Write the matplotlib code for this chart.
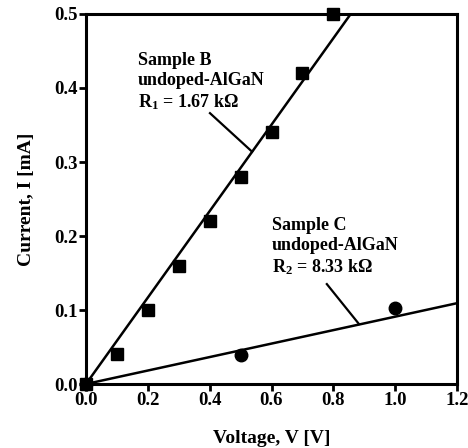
import matplotlib
matplotlib.use("Agg")
import matplotlib.pyplot as plt

plt.rcParams['font.family'] = ['Liberation Serif', 'DejaVu Serif']
plt.rcParams['font.weight'] = 'bold'
plt.rcParams['mathtext.fontset'] = 'custom'
plt.rcParams['mathtext.rm'] = 'Liberation Serif:bold'
plt.rcParams['mathtext.default'] = 'rm'

# data
v_b = [0.0, 0.1, 0.2, 0.3, 0.4, 0.5, 0.6, 0.7, 0.8]
i_b = [0.0, 0.04, 0.10, 0.16, 0.22, 0.28, 0.34, 0.42, 0.50]
v_c = [0.0, 0.5, 1.0]
i_c = [0.0, 0.039, 0.103]

# fitted lines (slopes in mA/V)
slope_b = 0.584
slope_c = 0.091
fit_v = [0.0, 1.2]

xticks = [0.0, 0.2, 0.4, 0.6, 0.8, 1.0, 1.2]
yticks = [0.0, 0.1, 0.2, 0.3, 0.4, 0.5]

fig = plt.figure(figsize=(4.68, 4.48), dpi=100)
ax = fig.add_axes([86 / 468, 64 / 448, 371 / 468, 370 / 448])

ax.plot(fit_v, [slope_b * v for v in fit_v], color='black', lw=1.8)
ax.plot(fit_v, [slope_c * v for v in fit_v], color='black', lw=1.8)
ax.plot(v_b, i_b, 's', color='black', ms=8.5, clip_on=False)
ax.plot(v_c, i_c, 'o', color='black', ms=9, clip_on=False)

# leader lines for the labels
ax.plot([0.401, 0.537], [0.366, 0.314], color='black', lw=1.6)
ax.plot([0.779, 0.883], [0.135, 0.081], color='black', lw=1.6)

ax.text(0.168, 0.408, "Sample B\nundoped-AlGaN\nR$_1$ = 1.67 kΩ",
        fontsize=13, fontweight='bold', va='center', ha='left', linespacing=1.2)
ax.text(0.602, 0.185, "Sample C\nundoped-AlGaN\nR$_2$ = 8.33 kΩ",
        fontsize=13, fontweight='bold', va='center', ha='left', linespacing=1.2)

ax.set_xlim(0, 1.2)
ax.set_ylim(0, 0.5)
ax.set_xticks(xticks)
ax.set_yticks(yticks)
ax.set_xticklabels([f"{t:.1f}" for t in xticks])
ax.set_yticklabels([f"{t:.1f}" for t in yticks])
ax.tick_params(direction='out', length=5, width=2, labelsize=13.5, pad=1)
ax.tick_params(top=False, right=False)
for s in ax.spines.values():
    s.set_linewidth(2.2)

ax.set_xlabel("Voltage, V [V]", fontsize=14, fontweight='bold', labelpad=15)
ax.set_ylabel("Current, I [mA]", fontsize=14, fontweight='bold', labelpad=14)

fig.savefig("out.png", dpi=100)
